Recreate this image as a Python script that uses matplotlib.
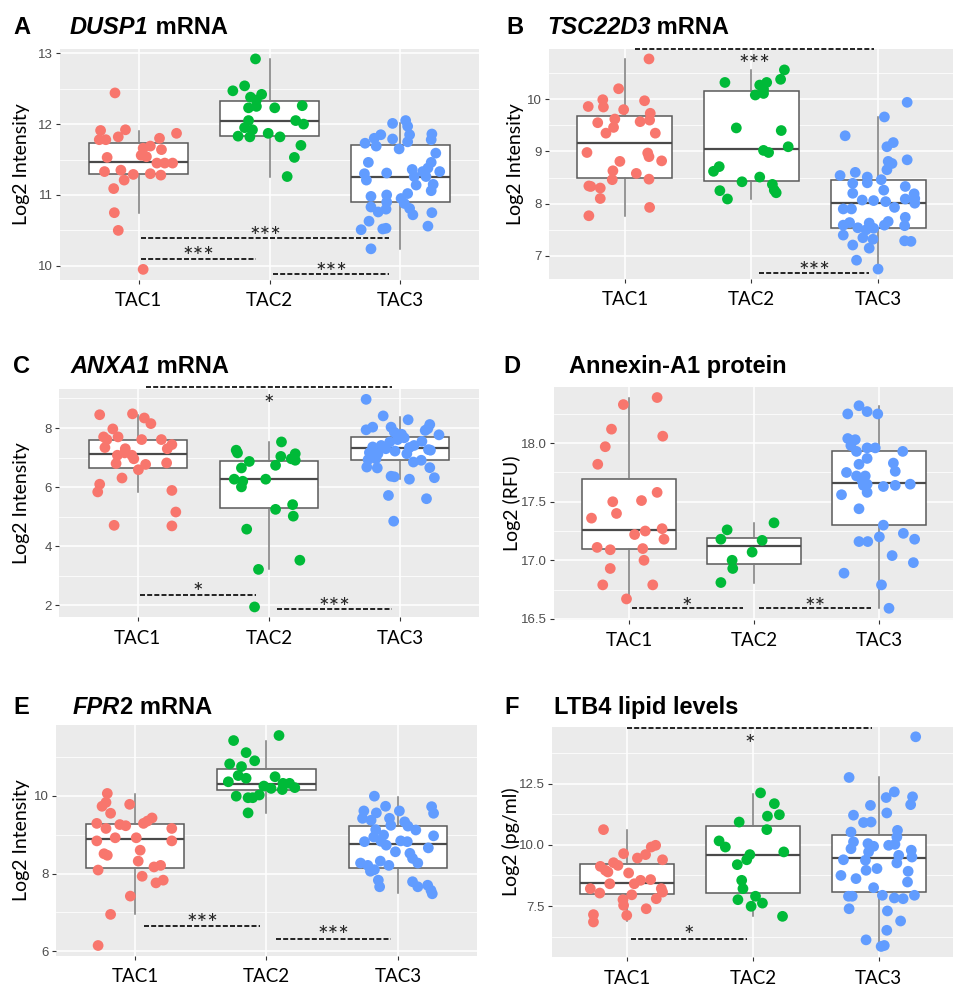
import matplotlib
matplotlib.use("Agg")
import matplotlib.pyplot as plt

W, H = 954, 990
groups = ["TAC1", "TAC2", "TAC3"]
colors = ["#F8766D", "#00BA38", "#619CFF"]

# ---------------- A : DUSP1 mRNA
A_TAC1 = [12.44, 11.91, 11.92, 11.78, 11.78, 11.82, 11.87, 11.80, 11.69, 11.66, 11.64, 11.53, 11.56, 11.54,
          11.45, 11.45, 11.45, 11.33, 11.35, 11.29, 11.21, 11.30, 11.28, 11.09, 10.75, 10.50, 9.95]
A_TAC1_dx = [-0.18, -0.29, -0.10, -0.30, -0.25, -0.155, 0.29, 0.16, 0.09, 0.035, 0.175, -0.24, 0.02, 0.06,
             0.14, 0.20, 0.26, -0.26, -0.135, -0.04, -0.11, 0.09, 0.17, -0.19, -0.185, -0.155, 0.035]
A_TAC2 = [12.92, 12.47, 12.54, 12.38, 12.42, 12.34, 12.23, 12.25, 12.23, 12.26, 12.05, 12.05, 12.00, 11.95,
          11.92, 11.83, 11.82, 11.87, 11.82, 11.70, 11.53, 11.26]
A_TAC2_dx = [-0.107, -0.28, -0.19, -0.145, -0.06, -0.10, -0.16, -0.10, 0.04, 0.25, -0.16, 0.20, 0.26, -0.19,
             -0.13, -0.24, -0.15, -0.01, 0.08, 0.24, 0.19, 0.135]
A_TAC3 = [12.01, 12.05, 11.97, 11.85, 11.75, 11.86, 11.78, 11.85, 11.80, 11.79, 11.73, 11.69, 11.65, 11.59,
          11.46, 11.46, 11.38, 11.36, 11.30, 11.31, 11.33, 11.33, 11.21, 11.26, 11.26, 11.14, 11.15, 11.06,
          11.02, 10.98, 11.00, 10.95, 10.90, 10.88, 10.83, 10.76, 10.80, 10.81, 10.72, 10.75, 10.63, 10.51,
          10.52, 10.53, 10.56, 10.24]
A_TAC3_dx = [-0.06, 0.04, 0.055, 0.07, 0.055, 0.24, 0.235, -0.15, -0.20, -0.06, -0.27, -0.185, -0.01, 0.27,
             -0.245, 0.235, 0.21, 0.09, -0.275, -0.105, 0.17, 0.30, -0.26, 0.105, 0.195, 0.12, 0.25, 0.235,
             0.055, -0.225, -0.105, 0.005, -0.105, 0.03, -0.225, -0.17, -0.11, 0.07, 0.095, 0.24, -0.24, -0.30,
             -0.135, -0.11, 0.21, -0.225]
A_q1 = [11.30, 11.83, 10.90]
A_med = [11.47, 12.04, 11.25]
A_q3 = [11.74, 12.33, 11.70]
A_lo = [10.75, 11.26, 10.24]
A_hi = [11.90, 12.92, 12.02]

# ---------------- B : TSC22D3 mRNA
B_TAC1 = [10.77, 10.20, 9.99, 9.85, 9.86, 9.97, 9.80, 9.73, 9.60, 9.62, 9.55, 9.57, 9.46, 9.35, 9.35,
          8.98, 8.97, 8.90, 8.82, 8.81, 8.63, 8.58, 8.46, 8.47, 8.34, 8.33, 8.30, 8.10, 7.93, 7.77]
B_TAC1_dx = [0.19, -0.05, -0.175, -0.17, -0.29, 0.155, -0.01, 0.20, 0.195, -0.08, -0.215, 0.12, -0.09, -0.15,
             0.24, -0.30, 0.18, 0.19, 0.29, -0.04, -0.095, 0.09, -0.10, 0.19, -0.285, -0.27, -0.195, -0.195,
             0.195, -0.285]
B_TAC2 = [10.56, 10.38, 10.32, 10.32, 10.27, 10.19, 10.08, 10.11, 9.45, 9.40, 9.09, 9.02, 8.98, 8.71, 8.62,
          8.51, 8.42, 8.37, 8.26, 8.21, 8.25, 8.09]
B_TAC2_dx = [0.26, 0.23, -0.21, 0.12, 0.065, 0.095, 0.03, 0.095, -0.12, 0.235, 0.29, 0.095, 0.135, -0.255,
             -0.30, 0.065, -0.075, 0.165, 0.18, 0.195, -0.25, -0.19]
B_TAC3 = [9.94, 9.66, 9.30, 9.17, 9.09, 8.84, 8.81, 8.77, 8.65, 8.54, 8.60, 8.51, 8.46, 8.40, 8.39, 8.33,
          8.26, 8.20, 8.19, 8.10, 8.09, 8.07, 8.06, 8.04, 8.01, 7.93, 7.90, 7.90, 7.74, 7.64, 7.59, 7.63,
          7.66, 7.59, 7.58, 7.54, 7.53, 7.50, 7.40, 7.35, 7.32, 7.28, 7.29, 7.21, 7.15, 6.92, 6.75]
B_TAC3_dx = [0.23, 0.05, -0.26, 0.12, 0.07, 0.23, 0.08, 0.11, 0.07, -0.30, -0.18, -0.085, 0.025, -0.085,
             -0.20, 0.215, 0.045, -0.20, 0.285, 0.29, 0.215, -0.125, -0.035, 0.06, 0.29, 0.13, -0.275, -0.21,
             0.215, -0.225, -0.275, -0.07, 0.08, 0.05, 0.21, -0.16, -0.035, -0.095, -0.275, -0.12, -0.04,
             0.26, 0.21, -0.20, -0.07, -0.17, 0.0]
B_q1 = [8.49, 8.44, 7.53]
B_med = [9.16, 9.05, 8.02]
B_q3 = [9.68, 10.15, 8.46]
B_lo = [7.77, 8.09, 6.75]
B_hi = [10.77, 10.56, 9.66]

# ---------------- C : ANXA1 mRNA
C_TAC1 = [8.45, 8.48, 8.34, 8.15, 7.97, 7.70, 7.61, 7.70, 7.61, 7.61, 7.44, 7.34, 7.30, 7.30, 7.16, 7.08,
          7.08, 6.96, 6.80, 6.82, 6.77, 6.59, 6.31, 6.10, 5.84, 5.89, 5.16, 4.71, 4.69]
C_TAC1_dx = [-0.29, -0.04, 0.05, 0.10, -0.19, -0.26, -0.235, -0.15, 0.03, 0.18, 0.26, -0.25, -0.095, 0.225,
             -0.10, -0.155, -0.045, -0.03, -0.165, 0.22, 0.06, 0.005, -0.12, -0.29, -0.305, 0.26, 0.29,
             -0.18, 0.26]
C_TAC2 = [7.53, 7.25, 7.16, 7.13, 7.04, 6.96, 6.91, 6.87, 6.74, 6.65, 6.27, 6.27, 6.20, 6.01, 5.41, 5.25,
          5.02, 4.58, 3.53, 3.22, 1.95]
C_TAC2_dx = [0.095, -0.25, -0.24, 0.20, 0.09, 0.17, 0.20, -0.15, 0.05, -0.21, -0.265, -0.025, -0.20, -0.21,
             0.18, 0.05, 0.185, -0.17, 0.235, -0.08, -0.11]
C_TAC3 = [8.97, 8.41, 8.28, 8.12, 7.98, 7.94, 8.03, 8.03, 7.92, 7.86, 7.79, 7.77, 7.61, 7.67, 7.53, 7.55,
          7.41, 7.36, 7.41, 7.30, 7.34, 7.27, 7.22, 7.25, 7.17, 7.13, 7.13, 6.93, 6.85, 6.91, 6.96, 6.68,
          6.65, 6.66, 6.37, 6.35, 6.32, 6.27, 5.72, 5.61, 4.85]
C_TAC3_dx = [-0.26, -0.13, 0.06, 0.225, 0.21, -0.26, -0.21, -0.07, 0.19, -0.045, 0.01, 0.295, -0.02, 0.03,
             -0.08, 0.165, -0.145, -0.21, 0.105, -0.11, 0.07, 0.215, -0.04, 0.23, -0.235, -0.17, 0.05, -0.245,
             0.10, 0.16, -0.185, -0.255, -0.175, 0.225, -0.07, -0.045, 0.26, 0.07, -0.09, 0.20, -0.05]
C_q1 = [6.65, 5.30, 6.93]
C_med = [7.12, 6.26, 7.34]
C_q3 = [7.58, 6.90, 7.71]
C_lo = [5.84, 3.22, 6.27]
C_hi = [8.43, 7.53, 8.39]

# ---------------- D : Annexin-A1 protein
D_TAC1 = [18.39, 18.33, 18.12, 18.06, 17.97, 17.82, 17.58, 17.50, 17.51, 17.40, 17.36, 17.27, 17.22, 17.25,
          17.18, 17.11, 17.09, 17.10, 17.00, 16.93, 16.79, 16.79, 16.67]
D_TAC1_dx = [0.225, -0.045, -0.14, 0.27, -0.19, -0.25, 0.225, -0.13, 0.10, -0.10, -0.30, 0.265, 0.045, 0.13,
             0.28, -0.255, -0.15, 0.11, 0.12, -0.15, -0.21, 0.19, -0.02]
D_TAC2 = [17.32, 17.26, 17.18, 17.17, 17.07, 17.00, 16.93, 16.81]
D_TAC2_dx = [0.16, -0.215, -0.265, 0.065, -0.015, -0.175, -0.17, -0.265]
D_TAC3 = [18.32, 18.25, 18.27, 18.25, 18.04, 18.03, 17.98, 17.96, 17.96, 17.93, 17.93, 17.87, 17.82, 17.83,
          17.76, 17.75, 17.72, 17.72, 17.68, 17.65, 17.64, 17.63, 17.64, 17.65, 17.58, 17.56, 17.44, 17.30,
          17.20, 17.23, 17.16, 17.16, 17.18, 17.04, 16.98, 16.89, 16.79, 16.59]
D_TAC3_dx = [-0.16, -0.25, -0.095, -0.01, -0.25, -0.19, -0.225, -0.095, -0.03, -0.18, 0.19, -0.095, -0.16,
             0.115, 0.13, -0.26, -0.18, -0.11, -0.135, -0.095, -0.125, 0.035, 0.13, 0.25, -0.095, -0.30,
             -0.16, 0.035, 0.003, 0.195, -0.16, -0.09, 0.285, 0.105, 0.275, -0.28, 0.02, 0.08]
D_q1 = [17.10, 16.97, 17.30]
D_med = [17.26, 17.12, 17.66]
D_q3 = [17.69, 17.19, 17.93]
D_lo = [16.67, 16.81, 16.59]
D_hi = [18.39, 17.32, 18.32]

# ---------------- E : FPR2 mRNA
E_TAC1 = [10.06, 9.83, 9.73, 9.78, 9.55, 9.43, 9.35, 9.29, 9.29, 9.26, 9.23, 9.16, 9.16, 8.92, 8.92, 8.84,
          8.84, 8.60, 8.51, 8.47, 8.32, 8.21, 8.17, 8.09, 7.93, 7.83, 7.76, 7.42, 6.95, 6.15]
E_TAC1_dx = [-0.21, -0.22, -0.25, -0.04, -0.185, 0.13, 0.095, 0.065, -0.29, -0.115, -0.07, -0.22, 0.28, -0.15,
             0.01, -0.29, 0.28, 0.04, -0.235, -0.21, 0.025, 0.195, 0.145, -0.28, 0.055, 0.215, 0.16, -0.035,
             -0.185, -0.28]
E_TAC2 = [11.55, 11.42, 11.11, 10.90, 10.82, 10.75, 10.52, 10.45, 10.49, 10.36, 10.32, 10.32, 10.25, 10.21,
          10.19, 10.16, 10.02, 9.99, 9.95, 9.95, 9.56]
E_TAC2_dx = [0.095, -0.25, -0.155, -0.09, -0.28, -0.19, -0.215, -0.155, 0.065, -0.29, 0.175, 0.125, -0.02,
             0.215, 0.035, 0.12, -0.055, -0.23, -0.14, -0.105, -0.14]
E_TAC3 = [9.99, 9.73, 9.72, 9.55, 9.61, 9.56, 9.61, 9.42, 9.42, 9.37, 9.33, 9.24, 9.22, 9.13, 9.12, 8.99,
          8.97, 8.94, 8.82, 8.83, 8.84, 8.82, 8.73, 8.66, 8.56, 8.52, 8.39, 8.27, 8.27, 8.32, 8.21, 8.21,
          8.10, 8.06, 7.83, 7.66, 7.79, 7.66, 7.70, 7.57, 7.48]
E_TAC3_dx = [-0.18, -0.095, 0.255, 0.27, -0.26, -0.165, 0.01, -0.065, -0.27, -0.205, 0.05, -0.055, 0.075,
             -0.17, 0.135, -0.11, 0.27, -0.185, -0.255, -0.13, 0.02, 0.07, -0.09, 0.23, -0.02, 0.09, 0.11,
             0.15, -0.285, -0.135, -0.23, -0.07, -0.18, -0.21, -0.15, -0.14, 0.11, 0.15, 0.225, 0.25, 0.26]
E_q1 = [8.15, 10.15, 8.14]
E_med = [8.88, 10.30, 8.76]
E_q3 = [9.27, 10.68, 9.22]
E_lo = [6.97, 9.56, 7.50]
E_hi = [10.04, 11.41, 9.97]

# ---------------- F : LTB4 lipid levels
F_TAC1 = [10.62, 9.98, 9.91, 9.64, 9.60, 9.46, 9.39, 9.27, 9.16, 9.12, 8.96, 8.89, 8.85, 8.58, 8.55, 8.41,
          8.41, 8.21, 8.21, 8.07, 8.03, 7.96, 7.80, 7.76, 7.53, 7.39, 7.15, 7.12, 6.85]
F_TAC1_dx = [-0.19, 0.225, 0.19, -0.03, 0.145, 0.08, 0.28, -0.11, -0.075, -0.215, -0.175, -0.155, 0.01,
             0.185, 0.105, 0.055, -0.14, -0.295, 0.27, 0.28, -0.22, 0.035, 0.23, -0.035, -0.03, 0.15, -0.27,
             -0.005, -0.27]
F_TAC2 = [12.12, 11.68, 11.17, 11.23, 10.93, 10.62, 10.16, 9.91, 9.71, 9.60, 9.39, 9.19, 8.55, 8.21, 7.90,
          7.76, 7.62, 7.49, 7.08]
F_TAC2_dx = [0.06, 0.17, 0.115, 0.21, -0.11, 0.11, -0.27, -0.22, 0.245, -0.025, -0.05, -0.125, -0.09, -0.08,
             0.02, -0.12, 0.075, -0.015, 0.235]
F_TAC3 = [14.41, 12.75, 12.16, 11.93, 11.96, 11.64, 11.61, 11.30, 11.21, 10.91, 10.93, 10.59, 10.52, 10.32,
          10.12, 10.05, 9.94, 9.98, 10.02, 9.84, 9.78, 9.71, 9.57, 9.50, 9.39, 9.37, 9.26, 9.03, 8.96, 8.92,
          8.75, 8.62, 8.48, 8.25, 7.94, 7.94, 7.90, 7.90, 7.83, 7.80, 7.39, 7.30, 6.89, 6.51, 6.12, 5.85, 5.89]
F_TAC3_dx = [0.295, -0.235, 0.125, 0.06, 0.27, 0.255, -0.065, 0.065, -0.20, -0.12, -0.06, 0.15, -0.22, 0.145,
             -0.20, -0.085, -0.04, 0.08, 0.13, -0.22, 0.26, -0.08, 0.16, 0.265, -0.28, -0.105, 0.145, -0.013,
             -0.10, 0.235, -0.30, -0.18, 0.23, -0.04, 0.285, 0.03, -0.24, -0.21, 0.125, 0.195, -0.235, 0.07,
             0.175, 0.065, -0.10, 0.02, 0.045]
F_q1 = [7.98, 8.05, 8.07]
F_med = [8.45, 9.57, 9.48]
F_q3 = [9.23, 10.76, 10.40]
F_lo = [6.89, 7.09, 5.90]
F_hi = [10.59, 12.09, 12.75]

# barres de significativite : (x debut, x fin, y, etoiles, y des etoiles)
A_sig = [(1.02, 2.91, 10.39, "***", 10.50), (1.02, 1.90, 10.10, "***", 10.21), (2.03, 2.91, 9.89, "***", 9.99)]
B_sig = [(1.08, 2.97, 10.96, "***", 10.78), (2.06, 2.93, 6.67, "***", 6.81)]
C_sig = [(1.06, 2.94, 9.38, "*", 8.99), (1.02, 1.90, 2.37, "*", 2.65), (2.06, 2.94, 1.88, "***", 2.12)]
D_sig = [(1.02, 1.91, 16.59, "*", 16.65), (2.04, 2.94, 16.59, "**", 16.65)]
E_sig = [(1.07, 1.95, 6.64, "***", 6.86), (2.07, 2.95, 6.32, "***", 6.56)]
F_sig = [(1.00, 2.95, 14.75, "*", 14.34), (1.03, 1.95, 6.15, "*", 6.53)]


def px_axes(fig, l, t, r, b):
    return fig.add_axes([l / W, 1 - b / H, (r - l) / W, (b - t) / H])


def panel(fig, box, vals, dxs, stats, ylim, ticks, ticklabels, minor, ylabel, ylab_x, sig):
    l, t, r, b = box
    ax = px_axes(fig, *box)
    ax.set_facecolor("#EBEBEB")
    for s in ax.spines.values():
        s.set_visible(False)
    ax.set_xlim(0.4, 3.6)
    ax.set_ylim(*ylim)
    ax.set_xticks([1, 2, 3])
    ax.set_xticklabels(groups, fontfamily="Lato", fontsize=13.5, color="black")
    ax.set_yticks(ticks)
    ax.set_yticklabels(ticklabels, fontfamily="Liberation Sans", fontsize=9.5, color="#4D4D4D")
    ax.set_yticks(minor, minor=True)
    ax.set_xticks([1.5, 2.5], minor=True)
    ax.tick_params(which="major", length=3, width=0.8, color="#333333")
    ax.tick_params(axis="x", pad=6)
    ax.tick_params(axis="y", pad=2)
    ax.tick_params(which="minor", length=0)
    ax.grid(which="major", color="white", lw=1.1, zorder=0)
    ax.grid(which="minor", axis="y", color="white", lw=0.55, zorder=0)
    ax.set_axisbelow(True)

    q1, med, q3, lo, hi = stats
    bxp_stats = []
    for i in range(3):
        bxp_stats.append({"q1": q1[i], "med": med[i], "q3": q3[i], "whislo": lo[i], "whishi": hi[i],
                          "fliers": []})
    ax.bxp(bxp_stats, positions=[1, 2, 3], widths=0.75, showcaps=False, showfliers=False,
           patch_artist=True, manage_ticks=False,
           boxprops=dict(facecolor="white", edgecolor="#5A5A5A", lw=1.1),
           medianprops=dict(color="#4A4A4A", lw=1.6),
           whiskerprops=dict(color="#7A7A7A", lw=1.1), zorder=2)

    for i in range(3):
        xs = [i + 1 + d for d in dxs[i]]
        ax.scatter(xs, vals[i], s=60, color=colors[i], edgecolors="none", zorder=3)

    for x0, x1, y, lab, ty in sig:
        ax.plot([x0, x1], [y, y], color="black", lw=1.2, dashes=(3, 1.3), zorder=4, clip_on=False)
        ax.annotate(lab, xy=((x0 + x1) / 2, ty), xytext=(0, -5), textcoords="offset points",
                    ha="center", va="center", fontsize=18, fontfamily="Lato", color="#222222",
                    zorder=4, annotation_clip=False)

    fig.text(ylab_x / W, 1 - (t + b) / 2 / H, ylabel, rotation=90, ha="center", va="center",
             fontfamily="Lato", fontsize=14)
    return ax


def titre(fig, letter, lx, tx, y, ital, rest):
    fs = 17
    fig.text(lx / W, 1 - y / H, letter, fontfamily="Liberation Sans", fontweight="bold", fontsize=fs,
             va="baseline")
    if ital:
        t1 = fig.text(tx / W, 1 - y / H, ital, fontfamily="Liberation Sans", fontweight="bold",
                      fontstyle="italic", fontsize=fs, va="baseline")
        fig.canvas.draw()
        bb = t1.get_window_extent()
        fig.text(bb.x1 / fig.dpi / fig.get_figwidth(), 1 - y / H, rest, fontfamily="Liberation Sans",
                 fontweight="bold", fontsize=fs, va="baseline")
    else:
        fig.text(tx / W, 1 - y / H, rest, fontfamily="Liberation Sans", fontweight="bold", fontsize=fs,
                 va="baseline")


fig = plt.figure(figsize=(W / 100, H / 100), dpi=100)
fig.patch.set_facecolor("white")

panel(fig, (60, 49, 479, 280), [A_TAC1, A_TAC2, A_TAC3], [A_TAC1_dx, A_TAC2_dx, A_TAC3_dx],
      (A_q1, A_med, A_q3, A_lo, A_hi), (9.80, 13.06), [10, 11, 12, 13], ["10", "11", "12", "13"],
      [10.5, 11.5, 12.5], "Log2 Intensity", 22, A_sig)
panel(fig, (549, 49, 954, 279), [B_TAC1, B_TAC2, B_TAC3], [B_TAC1_dx, B_TAC2_dx, B_TAC3_dx],
      (B_q1, B_med, B_q3, B_lo, B_hi), (6.56, 10.96), [7, 8, 9, 10], ["7", "8", "9", "10"],
      [7.5, 8.5, 9.5, 10.5], "Log2 Intensity", 515, B_sig)
panel(fig, (59, 389, 479, 617), [C_TAC1, C_TAC2, C_TAC3], [C_TAC1_dx, C_TAC2_dx, C_TAC3_dx],
      (C_q1, C_med, C_q3, C_lo, C_hi), (1.61, 9.32), [2, 4, 6, 8], ["2", "4", "6", "8"],
      [3, 5, 7, 9], "Log2 Intensity", 22, C_sig)
panel(fig, (554, 387, 954, 620), [D_TAC1, D_TAC2, D_TAC3], [D_TAC1_dx, D_TAC2_dx, D_TAC3_dx],
      (D_q1, D_med, D_q3, D_lo, D_hi), (16.49, 18.48), [16.5, 17.0, 17.5, 18.0],
      ["16.5", "17.0", "17.5", "18.0"], [16.75, 17.25, 17.75, 18.25], "Log2 (RFU)", 512, D_sig)
panel(fig, (56, 725, 477, 956), [E_TAC1, E_TAC2, E_TAC3], [E_TAC1_dx, E_TAC2_dx, E_TAC3_dx],
      (E_q1, E_med, E_q3, E_lo, E_hi), (5.88, 11.82), [6, 8, 10], ["6", "8", "10"],
      [7, 9, 11], "Log2 Intensity", 22, E_sig)
panel(fig, (552, 727, 954, 957), [F_TAC1, F_TAC2, F_TAC3], [F_TAC1_dx, F_TAC2_dx, F_TAC3_dx],
      (F_q1, F_med, F_q3, F_lo, F_hi), (5.42, 14.81), [7.5, 10.0, 12.5], ["7.5", "10.0", "12.5"],
      [6.25, 8.75, 11.25, 13.75], "Log2 (pg/ml)", 511, F_sig)

titre(fig, "A", 13, 70, 34, "DUSP1", " mRNA")
titre(fig, "B", 506, 547, 34, "TSC22D3", " mRNA")
titre(fig, "C", 13, 70, 373, "ANXA1", " mRNA")
titre(fig, "D", 503, 569, 373, None, "Annexin-A1 protein")
titre(fig, "E", 13, 73, 714, "FPR", "2 mRNA")
titre(fig, "F", 504, 554, 714, None, "LTB4 lipid levels")

fig.savefig("out.png", dpi=100)
